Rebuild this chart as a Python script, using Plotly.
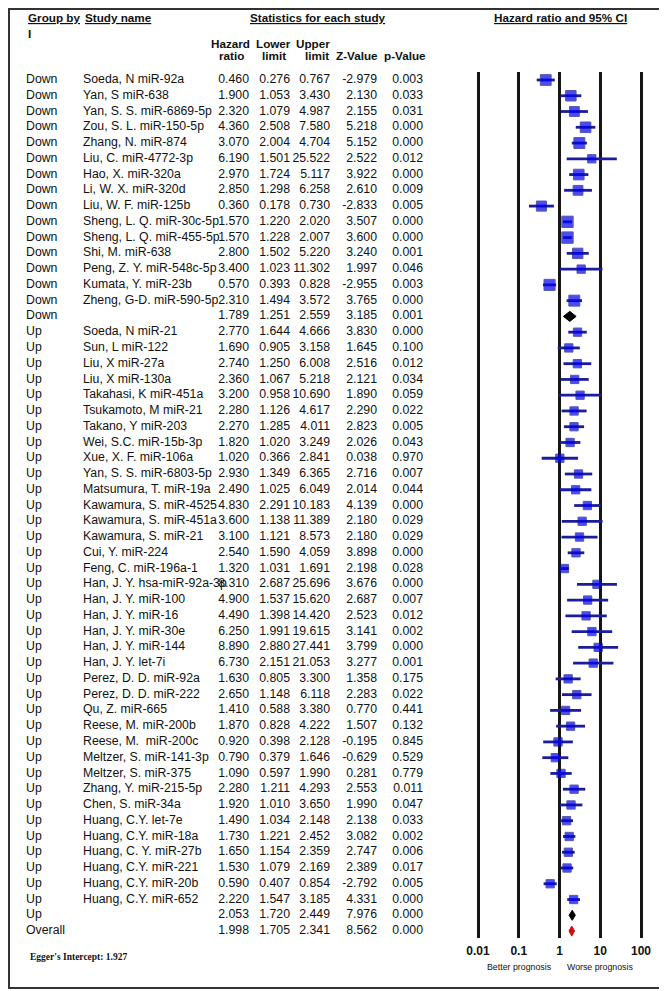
import numpy as np
import plotly.graph_objects as go

# ---- data ----
down_names = ["Soeda, N miR-92a", "Yan, S miR-638", "Yan, S. S. miR-6869-5p",
              "Zou, S. L. miR-150-5p", "Zhang, N. miR-874", "Liu, C. miR-4772-3p",
              "Hao, X. miR-320a", "Li, W. X. miR-320d", "Liu, W. F. miR-125b",
              "Sheng, L. Q. miR-30c-5p", "Sheng, L. Q. miR-455-5p", "Shi, M. miR-638",
              "Peng, Z. Y. miR-548c-5p", "Kumata, Y. miR-23b", "Zheng, G-D. miR-590-5p"]
down_hr = [0.460, 1.900, 2.320, 4.360, 3.070, 6.190, 2.970, 2.850, 0.360, 1.570,
           1.570, 2.800, 3.400, 0.570, 2.310]
down_lo = [0.276, 1.053, 1.079, 2.508, 2.004, 1.501, 1.724, 1.298, 0.178, 1.220,
           1.228, 1.502, 1.023, 0.393, 1.494]
down_hi = [0.767, 3.430, 4.987, 7.580, 4.704, 25.522, 5.117, 6.258, 0.730, 2.020,
           2.007, 5.220, 11.302, 0.828, 3.572]
down_z = [-2.979, 2.130, 2.155, 5.218, 5.152, 2.522, 3.922, 2.610, -2.833, 3.507,
          3.600, 3.240, 1.997, -2.955, 3.765]
down_p = [0.003, 0.033, 0.031, 0.000, 0.000, 0.012, 0.000, 0.009, 0.005, 0.000,
          0.000, 0.001, 0.046, 0.003, 0.000]
down_summary = [1.789, 1.251, 2.559, 3.185, 0.001]

up_names = ["Soeda, N miR-21", "Sun, L miR-122", "Liu, X miR-27a", "Liu, X miR-130a",
            "Takahasi, K miR-451a", "Tsukamoto, M miR-21", "Takano, Y miR-203",
            "Wei, S.C. miR-15b-3p", "Xue, X. F. miR-106a", "Yan, S. S. miR-6803-5p",
            "Matsumura, T. miR-19a", "Kawamura, S. miR-4525", "Kawamura, S. miR-451a",
            "Kawamura, S. miR-21", "Cui, Y. miR-224", "Feng, C. miR-196a-1",
            "Han, J. Y. hsa-miR-92a-3p", "Han, J. Y. miR-100", "Han, J. Y. miR-16",
            "Han, J. Y. miR-30e", "Han, J. Y. miR-144", "Han, J. Y. let-7i",
            "Perez, D. D. miR-92a", "Perez, D. D. miR-222", "Qu, Z. miR-665",
            "Reese, M. miR-200b", "Reese, M.  miR-200c", "Meltzer, S. miR-141-3p",
            "Meltzer, S. miR-375", "Zhang, Y. miR-215-5p", "Chen, S. miR-34a",
            "Huang, C.Y. let-7e", "Huang, C.Y. miR-18a", "Huang, C. Y. miR-27b",
            "Huang, C.Y. miR-221", "Huang, C.Y. miR-20b", "Huang, C.Y. miR-652"]
up_hr = [2.770, 1.690, 2.740, 2.360, 3.200, 2.280, 2.270, 1.820, 1.020, 2.930,
         2.490, 4.830, 3.600, 3.100, 2.540, 1.320, 8.310, 4.900, 4.490, 6.250,
         8.890, 6.730, 1.630, 2.650, 1.410, 1.870, 0.920, 0.790, 1.090, 2.280,
         1.920, 1.490, 1.730, 1.650, 1.530, 0.590, 2.220]
up_lo = [1.644, 0.905, 1.250, 1.067, 0.958, 1.126, 1.285, 1.020, 0.366, 1.349,
         1.025, 2.291, 1.138, 1.121, 1.590, 1.031, 2.687, 1.537, 1.398, 1.991,
         2.880, 2.151, 0.805, 1.148, 0.588, 0.828, 0.398, 0.379, 0.597, 1.211,
         1.010, 1.034, 1.221, 1.154, 1.079, 0.407, 1.547]
up_hi = [4.666, 3.158, 6.008, 5.218, 10.690, 4.617, 4.011, 3.249, 2.841, 6.365,
         6.049, 10.183, 11.389, 8.573, 4.059, 1.691, 25.696, 15.620, 14.420, 19.615,
         27.441, 21.053, 3.300, 6.118, 3.380, 4.222, 2.128, 1.646, 1.990, 4.293,
         3.650, 2.148, 2.452, 2.359, 2.169, 0.854, 3.185]
up_z = [3.830, 1.645, 2.516, 2.121, 1.890, 2.290, 2.823, 2.026, 0.038, 2.716,
        2.014, 4.139, 2.180, 2.180, 3.898, 2.198, 3.676, 2.687, 2.523, 3.141,
        3.799, 3.277, 1.358, 2.283, 0.770, 1.507, -0.195, -0.629, 0.281, 2.553,
        1.990, 2.138, 3.082, 2.747, 2.389, -2.792, 4.331]
up_p = [0.000, 0.100, 0.012, 0.034, 0.059, 0.022, 0.005, 0.043, 0.970, 0.007,
        0.044, 0.000, 0.029, 0.029, 0.000, 0.028, 0.000, 0.007, 0.012, 0.002,
        0.000, 0.001, 0.175, 0.022, 0.441, 0.132, 0.845, 0.529, 0.779, 0.011,
        0.047, 0.033, 0.002, 0.006, 0.017, 0.005, 0.000]
up_summary = [2.053, 1.720, 2.449, 7.976, 0.000]
overall = [1.998, 1.705, 2.341, 8.562, 0.000]

x_ticks = [0.01, 0.1, 1, 10, 100]

# ---- assemble rows ----
groups, names, hr, lo, hi, zv, pv, kind = [], [], [], [], [], [], [], []
for g, nm, a, b, c, d, e, summ in [("Down", down_names, down_hr, down_lo, down_hi, down_z, down_p, down_summary),
                                    ("Up", up_names, up_hr, up_lo, up_hi, up_z, up_p, up_summary)]:
    for i in range(len(nm)):
        groups.append(g); names.append(nm[i]); hr.append(a[i]); lo.append(b[i])
        hi.append(c[i]); zv.append(d[i]); pv.append(e[i]); kind.append("study")
    groups.append(g); names.append(""); hr.append(summ[0]); lo.append(summ[1])
    hi.append(summ[2]); zv.append(summ[3]); pv.append(summ[4]); kind.append("sub")
groups.append("Overall"); names.append(""); hr.append(overall[0]); lo.append(overall[1])
hi.append(overall[2]); zv.append(overall[3]); pv.append(overall[4]); kind.append("overall")
rows = list(range(len(hr)))


def re_weights(h, l, u):
    # DerSimonian-Laird random-effects weights (percent) inside a subgroup
    y = np.log(h)
    se = (np.log(u) - np.log(l)) / (2 * 1.96)
    w = 1 / se ** 2
    q = np.sum(w * (y - np.sum(w * y) / np.sum(w)) ** 2)
    c = np.sum(w) - np.sum(w ** 2) / np.sum(w)
    tau2 = max(0.0, (q - (len(y) - 1)) / c)
    wr = 1 / (se ** 2 + tau2)
    return 100 * wr / wr.sum()


pct = np.concatenate([re_weights(np.array(down_hr), np.array(down_lo), np.array(down_hi)),
                      re_weights(np.array(up_hr), np.array(up_lo), np.array(up_hi))])
box = np.clip(4.0 * np.sqrt(pct), 8.3, 11.5)

# page geometry (page px); the html body adds an 8 px margin
OFF = 8
W, H = 667 - OFF, 991 - OFF
ROW0, DY = 80 - OFF, 15.76          # first row centre and row pitch
PLOT_TOP, PLOT_BOT = 72 - OFF, 938 - OFF
X001, DEC = 478 - OFF, 40.75         # px of 0.01 and px per decade
XL, XR = 455 - OFF, 655 - OFF


def row_of(py):
    return (py - ROW0) / DY


def px(x):
    return (x - OFF) / W


def py(y):
    return 1 - (y - OFF) / H


fig = go.Figure()

# study squares with CI whiskers
st = [i for i in rows if kind[i] == "study"]
fig.add_trace(go.Scatter(
    x=[hr[i] for i in st], y=[rows[i] for i in st], mode="markers",
    marker=dict(symbol="square", size=[box[k] for k in range(len(st))], color="#0000f0",
                line=dict(color="#10108c", width=1)),
    error_x=dict(type="data", symmetric=False,
                 array=[hi[i] - hr[i] for i in st], arrayminus=[hr[i] - lo[i] for i in st],
                 color="#1c1c9c", thickness=2.8, width=0),
    xaxis="x", yaxis="y", hoverinfo="skip", showlegend=False))

# summary diamonds
hh = 0.32
for i in rows:
    if kind[i] == "study":
        continue
    col = "#cc1010" if kind[i] == "overall" else "#000000"
    fig.add_trace(go.Scatter(
        x=[lo[i], hr[i], hi[i], hr[i], lo[i]],
        y=[rows[i], rows[i] - hh, rows[i], rows[i] + hh, rows[i]],
        mode="lines", fill="toself", fillcolor=col, line=dict(color=col, width=1),
        xaxis="x", yaxis="y", hoverinfo="skip", showlegend=False))

# table columns
tfont = dict(family="Liberation Sans, Arial", size=12.3, color="#111")
fmt = lambda v: f"{v:.3f}"
cols = [(26, groups, "middle right"), (83, names, "middle right"),
        (249, [fmt(v) for v in hr], "middle left"), (290, [fmt(v) for v in lo], "middle left"),
        (330, [fmt(v) for v in hi], "middle left"), (377, [fmt(v) for v in zv], "middle left"),
        (423, [fmt(v) for v in pv], "middle left")]
for cx, txt, pos in cols:
    fig.add_trace(go.Scatter(
        x=[cx - OFF] * len(rows), y=rows, mode="text", text=txt, textposition=pos,
        textfont=tfont, marker=dict(size=0.1), xaxis="x2", yaxis="y2",
        hoverinfo="skip", showlegend=False))

fig.update_layout(
    width=W, height=H, margin=dict(l=0, r=0, t=0, b=0),
    paper_bgcolor="white", plot_bgcolor="rgba(0,0,0,0)",
    xaxis=dict(type="log", domain=[XL / W, XR / W],
               range=[-2 - (X001 - XL) / DEC, -2 + (XR - X001) / DEC],
               tickvals=x_ticks, ticktext=["0.01", "0.1", "1", "10", "100"],
               tickfont=dict(family="Liberation Sans, Arial", size=12, color="#111", weight="bold"),
               ticklabelstandoff=4,
               showgrid=True, gridcolor="#151515", gridwidth=3, zeroline=False,
               showline=False, ticks="", fixedrange=True),
    yaxis=dict(domain=[1 - PLOT_BOT / H, 1 - PLOT_TOP / H],
               range=[row_of(PLOT_BOT), row_of(PLOT_TOP)],
               showgrid=False, zeroline=False, showticklabels=False, fixedrange=True),
    xaxis2=dict(domain=[0, 1], range=[0, W], visible=False, anchor="y2", fixedrange=True),
    yaxis2=dict(domain=[0, 1], range=[row_of(H), row_of(0)], visible=False,
                anchor="x2", fixedrange=True),
)

hfont = dict(family="Liberation Sans, Arial", size=11.7, color="#111", weight="bold")
headers = [("<u>Group by</u>", 26, 18, "left"), ("I", 26, 33, "left"),
           ("<u>Study name</u>", 83, 18, "left"),
           ("<u>Statistics for each study</u>", 318, 18, "center"),
           ("<u>Hazard ratio and 95% CI</u>", 560, 18, "center"),
           ("Hazard", 230, 43, "center"), ("ratio", 231, 56, "center"),
           ("Lower", 273, 43, "center"), ("limit", 274, 56, "center"),
           ("Upper", 313, 43, "center"), ("limit", 317, 56, "center"),
           ("Z-Value", 357, 56, "center"), ("p-Value", 405, 56, "center")]
for t, hx, hy, anc in headers:
    fig.add_annotation(text=t, x=px(hx), y=py(hy), xref="paper", yref="paper",
                       xanchor=anc, yanchor="middle", showarrow=False, font=hfont)

sfont = dict(family="Liberation Sans, Arial", size=8.8, color="#111")
fig.add_annotation(text="Better prognosis", x=px(519), y=py(967), xref="paper", yref="paper",
                   xanchor="center", yanchor="middle", showarrow=False, font=sfont)
fig.add_annotation(text="Worse prognosis", x=px(600), y=py(967), xref="paper", yref="paper",
                   xanchor="center", yanchor="middle", showarrow=False, font=sfont)
fig.add_annotation(text="Egger's Intercept: 1.927", x=px(28), y=py(957),
                   xref="paper", yref="paper", xanchor="left", yanchor="middle", showarrow=False,
                   font=dict(family="Liberation Serif, Times New Roman", size=9.5,
                             color="#111", weight="bold"))

# outer frame
fig.add_shape(type="rect", xref="paper", yref="paper", x0=px(9), x1=px(665),
              y0=py(988), y1=py(9), line=dict(color="#333", width=2))

fig.write_html("out.html")
